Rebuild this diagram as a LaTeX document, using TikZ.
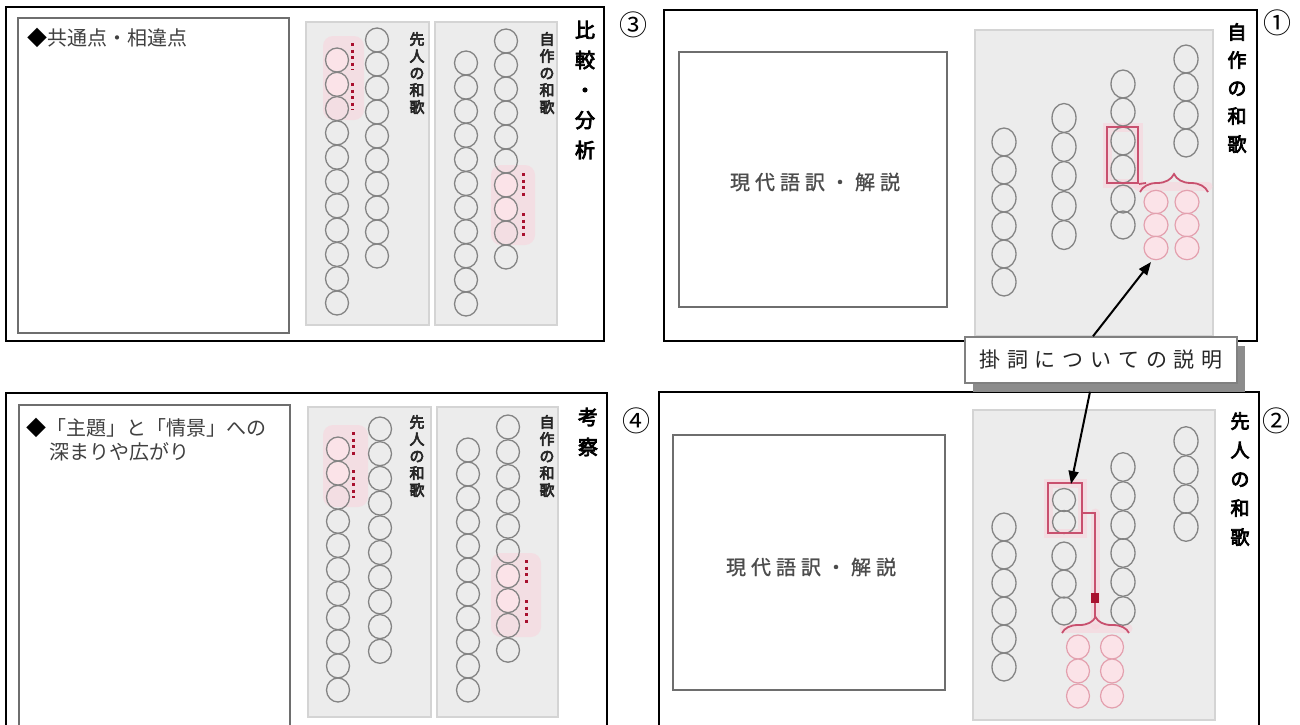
\documentclass[tikz,border=0pt]{standalone}
\usepackage{fontspec}
\newfontfamily\jp{Noto Sans CJK JP}
\newfontfamily\jpb{Noto Sans CJK JP}[FakeBold=4]
\newfontfamily\jpls{Noto Sans CJK JP}[LetterSpace=25,FakeBold=1]
\newfontfamily\jplab{Noto Sans CJK JP}[LetterSpace=33]
\usetikzlibrary{arrows.meta,decorations.pathreplacing,shadows,calc}
\definecolor{panelgray}{HTML}{ECECEC}
\definecolor{panelline}{HTML}{D4D4D4}
\definecolor{circline}{HTML}{848484}
\definecolor{boxline}{HTML}{6E6E6E}
\definecolor{kred}{HTML}{C8506E}
\definecolor{dotred}{HTML}{A8102E}
\definecolor{pinkfill}{HTML}{FBE3E8}
\definecolor{pinkline}{HTML}{E3A0AE}
\definecolor{glow}{HTML}{F9D3DC}
\begin{document}
\begin{tikzpicture}[x=1pt,y=-1pt,
  outer/.style={draw=black, line width=2pt},
  innerbox/.style={draw=boxline, line width=2.8pt, fill=white},
  panel/.style={fill=panelgray, draw=panelline, line width=1.2pt},
  circ/.style={draw=circline, line width=1.3pt},
  pinkc/.style={draw=pinkline, line width=1.2pt, fill=pinkfill},
  redbox/.style={draw=kred, line width=2pt, inner sep=0pt},
  redline/.style={draw=kred, line width=1.8pt},
  marks/.style={draw=dotred, line width=3pt, dash pattern=on 3pt off 3.5pt},
  glowline/.style={draw=glow, line width=9pt, line cap=round, opacity=0.6},
  softglow/.style={fill=glow, rounded corners=10pt, opacity=0.55},
  arrowblk/.style={draw=black, line width=2pt, -{Triangle[length=13pt,width=10pt]}},
  boxtext/.style={font=\jp\fontsize{20}{24}\selectfont, text=black!75, inner sep=0pt},
  transtext/.style={font=\jpls\fontsize{20}{24}\selectfont, text=black!70, inner sep=0pt},
  bigtitle/.style={font=\jpb\fontsize{20}{30}\selectfont, align=center, inner sep=0pt, text=black},
  smalltitle/.style={font=\jpb\fontsize{15}{17}\selectfont, align=center, inner sep=0pt, text=black!85},
  numstyle/.style={font=\jp\fontsize{28}{28}\selectfont, inner sep=0pt, text=black}
]
\useasboundingbox (0,0) rectangle (1300,724);
\clip (0,0) rectangle (1300,724);
\fill[white] (0,0) rectangle (1300,724);

% ================= Panel 3 =================
\draw[outer] (6,7) rectangle (604,341);
\draw[innerbox] (18,18) rectangle (289,333);
\node[boxtext, anchor=base west] (t3) at (27,45.6) {\textcolor{black}{◆}共通点・相違点};
\draw[panel] (306,22) rectangle (429,325);
\draw[panel] (435,22) rectangle (557,325);
\fill[softglow] (323,36) rectangle (364,120);
\fill[softglow] (491,165) rectangle (535,245);
\foreach \i in {0,1} {\fill[pinkfill] (337,{60+24.3*\i}) ellipse [x radius=11.5pt, y radius=12pt];}
\foreach \i in {6,7} {\fill[pinkfill] (506,{41+24*\i}) ellipse [x radius=11.5pt, y radius=12pt];}
\foreach \i in {0,...,10} {\draw[circ] (337,{60+24.3*\i}) ellipse [x radius=11.5pt, y radius=12pt];}
\foreach \i in {0,...,9} {\draw[circ] (377,{40+24*\i}) ellipse [x radius=11.5pt, y radius=12pt];}
\foreach \i in {0,...,10} {\draw[circ] (466,{63+24.1*\i}) ellipse [x radius=11.5pt, y radius=12pt];}
\foreach \i in {0,...,9} {\draw[circ] (506,{41+24*\i}) ellipse [x radius=11.5pt, y radius=12pt];}
\draw[marks] (352,43) -- (352,70);
\draw[marks] (352,83) -- (352,110);
\draw[marks] (523,173) -- (523,198);
\draw[marks] (523,213) -- (523,237);
\node[smalltitle] (s3a) at (417,73) {先\\人\\の\\和\\歌};
\node[smalltitle] (s3b) at (547,73) {自\\作\\の\\和\\歌};
\node[bigtitle] (ttl3) at (585,90) {比\\較\\・\\分\\析};
\node[numstyle] (n3) at (633,25) {③};

% ================= Panel 4 =================
\draw[outer] (6,393) rectangle (607,740);
\draw[innerbox] (19,405) rectangle (290,740);
\node[boxtext, anchor=base west] (t4a) at (26,435.6) {\textcolor{black}{◆}「主題」と「情景」への};
\node[boxtext, anchor=base west] (t4b) at (49,459.6) {深まりや広がり};
\draw[panel] (308,407) rectangle (431,717);
\draw[panel] (437,407) rectangle (558,717);
\fill[softglow] (323,425) rectangle (368,507);
\fill[softglow] (491,553) rectangle (541,637);
\foreach \i in {0,1} {\fill[pinkfill] (338,{449+24.1*\i}) ellipse [x radius=11.5pt, y radius=12pt];}
\foreach \i in {6,7} {\fill[pinkfill] (508,{427+24.8*\i}) ellipse [x radius=11.5pt, y radius=12pt];}
\foreach \i in {0,...,10} {\draw[circ] (338,{449+24.1*\i}) ellipse [x radius=11.5pt, y radius=12pt];}
\foreach \i in {0,...,9} {\draw[circ] (380,{429+24.7*\i}) ellipse [x radius=11.5pt, y radius=12pt];}
\foreach \i in {0,...,10} {\draw[circ] (468,{450+24*\i}) ellipse [x radius=11.5pt, y radius=12pt];}
\foreach \i in {0,...,9} {\draw[circ] (508,{427+24.8*\i}) ellipse [x radius=11.5pt, y radius=12pt];}
\draw[marks] (353,432) -- (353,458);
\draw[marks] (353,470) -- (353,498);
\draw[marks] (526,560) -- (526,585);
\draw[marks] (526,600) -- (526,625);
\node[smalltitle] (s4a) at (417,456) {先\\人\\の\\和\\歌};
\node[smalltitle] (s4b) at (547,456) {自\\作\\の\\和\\歌};
\node[bigtitle] (ttl4) at (588,432) {考\\察};
\node[numstyle] (n4) at (636,421) {④};

% ================= Panel 1 =================
\draw[outer] (664,10) rectangle (1257,341);
\draw[innerbox] (679,52) rectangle (947,307);
\node[transtext] (tr1) at (815,182) {現代語訳・解説};
\draw[panel] (975,30) rectangle (1213,336);
\draw[glowline] (1107,127) rectangle (1138,183);
\draw[glowline] (1138,186) -- (1208,186);
\foreach \y in {142,170,198,226,254,282} {\draw[circ] (1004,\y) ellipse [x radius=12pt, y radius=14pt];}
\foreach \y in {118,147,176,206,235} {\draw[circ] (1064,\y) ellipse [x radius=12pt, y radius=14.5pt];}
\foreach \y in {84,112,141,169,199,225} {\draw[circ] (1123,\y) ellipse [x radius=12pt, y radius=14pt];}
\foreach \y in {59,87,115,143} {\draw[circ] (1186,\y) ellipse [x radius=12pt, y radius=14pt];}
\foreach \x in {1156,1187} {\foreach \y in {202,225,248} {\draw[pinkc] (\x,\y) ellipse [x radius=12pt, y radius=11.7pt];}}
\node[redbox, minimum width=31pt, minimum height=56pt] (boxA) at (1122.5,155) {};
\draw[redline] (boxA.south east) -- (1146,183);
\draw[redline, decorate, decoration={brace, amplitude=18pt}] (1140,192) -- (1208,192);
\node[bigtitle, font=\jpb\fontsize{19}{28}\selectfont] (ttl1) at (1237,88) {自\\作\\の\\和\\歌};
\node[numstyle] (n1) at (1277,23) {①};
\coordinate (pinkA) at (1151,262);

% ================= Panel 2 =================
\draw[outer] (659,392) rectangle (1259,740);
\draw[innerbox] (673,435) rectangle (945,690);
\node[transtext] (tr2) at (811,567) {現代語訳・解説};
\draw[panel] (973,410) rectangle (1215,720);
\draw[glowline] (1048,483) rectangle (1082,533);
\draw[glowline] (1095,513) -- (1095,625);
\draw[glowline] (1064,628) -- (1128,628);
\foreach \y in {527,555,583,611,639,667} {\draw[circ] (1004,\y) ellipse [x radius=12pt, y radius=14pt];}
\foreach \y in {500,522} {\draw[circ] (1064,\y) ellipse [x radius=11.5pt, y radius=11.5pt];}
\foreach \y in {556,584,611} {\draw[circ] (1064,\y) ellipse [x radius=12pt, y radius=14pt];}
\foreach \y in {467,496,525,553,582,611} {\draw[circ] (1123,\y) ellipse [x radius=12pt, y radius=14.3pt];}
\foreach \y in {441,470,499,527} {\draw[circ] (1186,\y) ellipse [x radius=12pt, y radius=14.3pt];}
\foreach \x in {1078,1112} {\foreach \y in {647,671,696} {\draw[pinkc] (\x,\y) ellipse [x radius=11.5pt, y radius=12pt];}}
\node[redbox, minimum width=34pt, minimum height=50pt] (boxB) at (1065,508) {};
\coordinate (tipB) at (1095,617);
\draw[redline] ($(boxB.east)+(0,5)$) -| (tipB);
\fill[dotred] (1091,593) rectangle (1099,603);
\draw[redline, decorate, decoration={brace, amplitude=16pt}] (1062,633) -- (1129,633);
\node[bigtitle, font=\jpb\fontsize{19}{29}\selectfont] (ttl2) at (1240,479) {先\\人\\の\\和\\歌};
\node[numstyle] (n2) at (1276,421) {②};

% ================= Label and arrows =================
\node[draw=black!50, line width=1.5pt, fill=white, minimum width=272pt, minimum height=46pt, inner sep=0pt,
      drop shadow={shadow xshift=8pt, shadow yshift=-9pt, opacity=1, fill=black!45},
      font=\jplab\fontsize{21}{21}\selectfont, text=black!85] (kake) at (1101,360) {掛詞についての説明};
\draw[arrowblk] ($(kake.north)+(-8,0)$) -- (pinkA);
\draw[arrowblk] ($(kake.south)+(-11,8)$) -- ($(boxB.north)+(6,2)$);
\end{tikzpicture}
\end{document}
